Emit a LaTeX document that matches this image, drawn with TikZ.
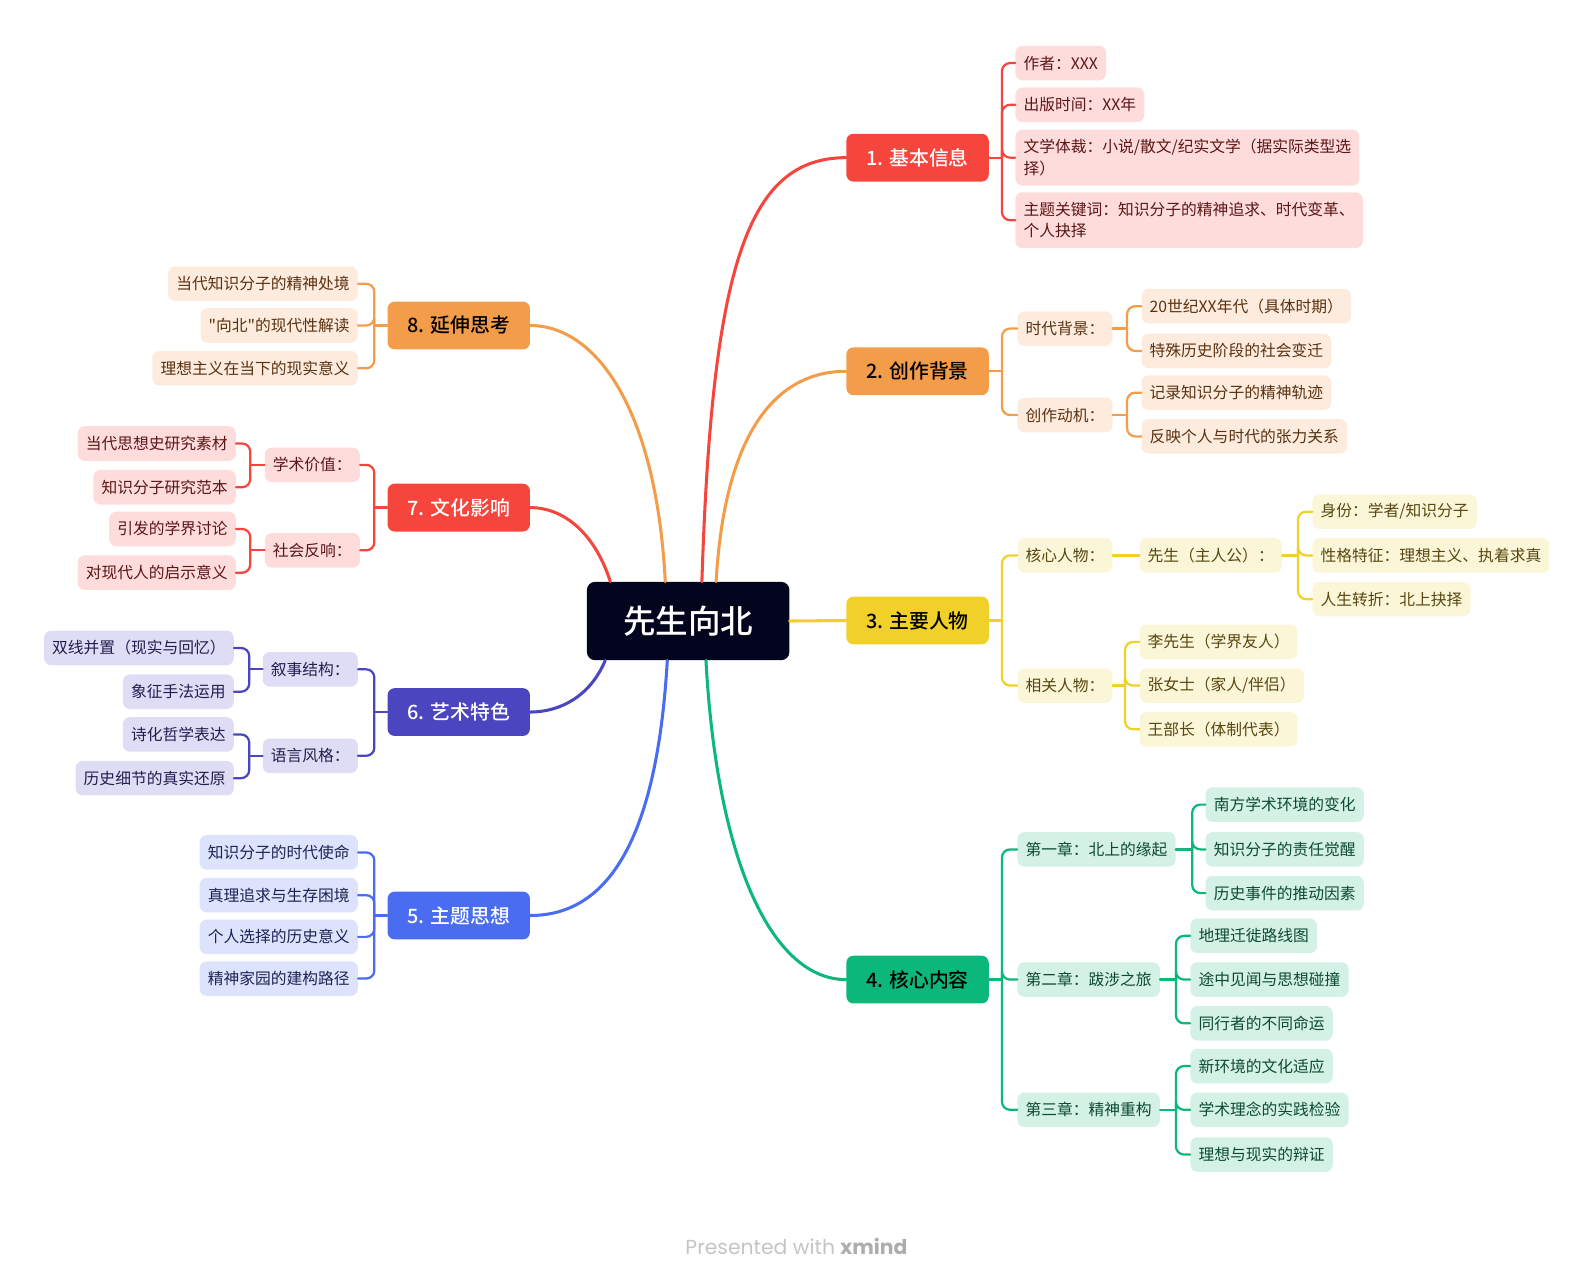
\documentclass[tikz,border=0pt]{standalone}
\usepackage{fontspec}
\setmainfont{Noto Sans CJK SC}
\newfontfamily\medfont{Noto Sans CJK SC}[UprightFont={* Medium}]
\newfontfamily\qfont{Noto Sans CJK SC}[Ligatures=TeXOff]
\newfontfamily\popp{Poppins}
\definecolor{cRed}{HTML}{F5453D}
\definecolor{cRedL}{HTML}{FDDCDB}
\definecolor{cRedT}{HTML}{5C1616}
\definecolor{cOr}{HTML}{F39C4A}
\definecolor{cOrL}{HTML}{FDEBDD}
\definecolor{cOrT}{HTML}{5A3212}
\definecolor{cYe}{HTML}{F1D029}
\definecolor{cYeL}{HTML}{FCF6D9}
\definecolor{cYeT}{HTML}{574710}
\definecolor{cGr}{HTML}{0CB77A}
\definecolor{cGrL}{HTML}{D3F1E4}
\definecolor{cGrT}{HTML}{0D4A34}
\definecolor{cBl}{HTML}{4A6CF0}
\definecolor{cBlL}{HTML}{DDE3FC}
\definecolor{cBlT}{HTML}{1B2452}
\definecolor{cIn}{HTML}{4B46BF}
\definecolor{cInL}{HTML}{DFDDF5}
\definecolor{cInT}{HTML}{221E4F}
\definecolor{cCtr}{HTML}{03051F}
\definecolor{cFoot}{HTML}{C4C4C4}
\definecolor{cFootB}{HTML}{ADADAD}
\tikzset{
  mainbox/.style={rounded corners=7, minimum width=140, minimum height=47, inner sep=0,
    font=\medfont\fontsize{19.5}{22}\selectfont},
  subbox/.style={rounded corners=7, minimum height=34, inner xsep=8, inner ysep=0,
    font=\fontsize{15.5}{21}\selectfont},
  twobox/.style={subbox, minimum height=55, align=left},
  redsub/.style={subbox, fill=cRedL, text=cRedT},
  orsub/.style={subbox, fill=cOrL, text=cOrT},
  yesub/.style={subbox, fill=cYeL, text=cYeT},
  grsub/.style={subbox, fill=cGrL, text=cGrT},
  blsub/.style={subbox, fill=cBlL, text=cBlT},
  insub/.style={subbox, fill=cInL, text=cInT},
  trunk/.style={line width=3, line cap=round},
  twig/.style={line width=2.2, rounded corners=8, line cap=round},
}
\begin{document}
\begin{tikzpicture}[x=1pt, y=-1pt]
\useasboundingbox (0,0) rectangle (1568,1257.3);

% central
\node[fill=cCtr, text=white, rounded corners=8, minimum width=199, minimum height=77,
  font=\medfont\fontsize{32}{36}\selectfont] (ctr) at (676.5,610.5) {先生向北};

% main nodes
\node[mainbox, fill=cRed, text=white] (n1) at (902,155) {1. 基本信息};
\node[mainbox, fill=cOr, text=black] (n2) at (902,365) {2. 创作背景};
\node[mainbox, fill=cYe, text=black] (n3) at (902,610) {3. 主要人物};
\node[mainbox, fill=cGr, text=black] (n4) at (902,963) {4. 核心内容};
\node[mainbox, fill=cBl, text=white] (n5) at (451,900) {5. 主题思想};
\node[mainbox, fill=cIn, text=white] (n6) at (451,700) {6. 艺术特色};
\node[mainbox, fill=cRed, text=white] (n7) at (451,499) {7. 文化影响};
\node[mainbox, fill=cOr, text=black] (n8) at (451,320) {8. 延伸思考};

% trunks
\draw[trunk, cRed] ([xshift=13.5]ctr.north) .. controls (700,260) and (735,155) .. (n1.west);
\draw[trunk, cOr] ([xshift=27.5]ctr.north) .. controls (712,430) and (760,365) .. (n2.west);
\draw[trunk, cYe] (ctr.east) -- (n3.west);
\draw[trunk, cGr] ([xshift=17.5]ctr.south) .. controls (705,850) and (760,963) .. (n4.west);
\draw[trunk, cBl] ([xshift=-20.5]ctr.south) .. controls (645,840) and (590,900) .. (n5.east);
\draw[trunk, cIn] ([xshift=-81.5]ctr.south) .. controls (580,685) and (550,700) .. (n6.east);
\draw[trunk, cRed] ([xshift=-76.5]ctr.north) .. controls (585,525) and (555,499) .. (n7.east);
\draw[trunk, cOr] ([xshift=-22.5]ctr.north) .. controls (645,400) and (585,320) .. (n8.east);

% ---------- branch 1
\node[redsub, anchor=west] (n1a) at (998,62) {作者：XXX};
\node[redsub, anchor=west] (n1b) at (998,103) {出版时间：XX年};
\node[twobox, fill=cRedL, text=cRedT, anchor=west] (n1c) at (998,155) {文学体裁：小说/散文/纪实文学（据实际类型选\\择）};
\node[twobox, fill=cRedL, text=cRedT, anchor=west] (n1d) at (998,216.5) {主题关键词：知识分子的精神追求、时代变革、\\个人抉择};
\coordinate (s1) at (985,155);
\draw[twig, cRed] (n1.east) -- (s1);
\foreach \c in {n1a,n1b,n1c,n1d} \draw[twig, cRed] (s1) |- (\c.west);

% ---------- branch 2
\node[orsub, anchor=west] (n2a) at (1000,323) {时代背景：};
\node[orsub, anchor=west] (n2b) at (1000,408) {创作动机：};
\coordinate (s2) at (985,365);
\draw[twig, cOr] (n2.east) -- (s2);
\foreach \c in {n2a,n2b} \draw[twig, cOr] (s2) |- (\c.west);
\node[orsub, anchor=west] (n2a1) at (1122,301) {20世纪XX年代（具体时期）};
\node[orsub, anchor=west] (n2a2) at (1122,345) {特殊历史阶段的社会变迁};
\coordinate (s2a) at (1108,323);
\draw[twig, cOr] (n2a.east) -- (s2a);
\foreach \c in {n2a1,n2a2} \draw[twig, cOr] (s2a) |- (\c.west);
\node[orsub, anchor=west] (n2b1) at (1122,386) {记录知识分子的精神轨迹};
\node[orsub, anchor=west] (n2b2) at (1122,429) {反映个人与时代的张力关系};
\coordinate (s2b) at (1108,408);
\draw[twig, cOr] (n2b.east) -- (s2b);
\foreach \c in {n2b1,n2b2} \draw[twig, cOr] (s2b) |- (\c.west);

% ---------- branch 3
\node[yesub, anchor=west] (n3a) at (1000,546) {核心人物：};
\node[yesub, anchor=west] (n3b) at (1000,674) {相关人物：};
\coordinate (s3) at (985,610);
\draw[twig, cYe] (n3.east) -- (s3);
\foreach \c in {n3a,n3b} \draw[twig, cYe] (s3) |- (\c.west);
\node[yesub, anchor=west] (n3a1) at (1120,546) {先生（主人公）：};
\draw[twig, cYe] (n3a.east) -- (n3a1.west);
\node[yesub, anchor=west] (n3x1) at (1290,503) {身份：学者/知识分子};
\node[yesub, anchor=west] (n3x2) at (1290,546) {性格特征：理想主义、执着求真};
\node[yesub, anchor=west] (n3x3) at (1290,589) {人生转折：北上抉择};
\coordinate (s3a) at (1276,546);
\draw[twig, cYe] (n3a1.east) -- (s3a);
\foreach \c in {n3x1,n3x2,n3x3} \draw[twig, cYe] (s3a) |- (\c.west);
\node[yesub, anchor=west] (n3b1) at (1120,631) {李先生（学界友人）};
\node[yesub, anchor=west] (n3b2) at (1120,674) {张女士（家人/伴侣）};
\node[yesub, anchor=west] (n3b3) at (1120,717) {王部长（体制代表）};
\coordinate (s3b) at (1106,674);
\draw[twig, cYe] (n3b.east) -- (s3b);
\foreach \c in {n3b1,n3b2,n3b3} \draw[twig, cYe] (s3b) |- (\c.west);

% ---------- branch 4
\node[grsub, anchor=west] (n4a) at (1000,835) {第一章：北上的缘起};
\node[grsub, anchor=west] (n4b) at (1000,963) {第二章：跋涉之旅};
\node[grsub, anchor=west] (n4c) at (1000,1091) {第三章：精神重构};
\coordinate (s4) at (985,963);
\draw[twig, cGr] (n4.east) -- (s4);
\foreach \c in {n4a,n4b,n4c} \draw[twig, cGr] (s4) |- (\c.west);
\node[grsub, anchor=west] (n4a1) at (1185,791) {南方学术环境的变化};
\node[grsub, anchor=west] (n4a2) at (1185,835) {知识分子的责任觉醒};
\node[grsub, anchor=west] (n4a3) at (1185,878) {历史事件的推动因素};
\coordinate (s4a) at (1172,835);
\draw[twig, cGr] (n4a.east) -- (s4a);
\foreach \c in {n4a1,n4a2,n4a3} \draw[twig, cGr] (s4a) |- (\c.west);
\node[grsub, anchor=west] (n4b1) at (1170,920) {地理迁徙路线图};
\node[grsub, anchor=west] (n4b2) at (1170,963) {途中见闻与思想碰撞};
\node[grsub, anchor=west] (n4b3) at (1170,1006) {同行者的不同命运};
\coordinate (s4b) at (1156,963);
\draw[twig, cGr] (n4b.east) -- (s4b);
\foreach \c in {n4b1,n4b2,n4b3} \draw[twig, cGr] (s4b) |- (\c.west);
\node[grsub, anchor=west] (n4c1) at (1170,1048) {新环境的文化适应};
\node[grsub, anchor=west] (n4c2) at (1170,1091) {学术理念的实践检验};
\node[grsub, anchor=west] (n4c3) at (1170,1135) {理想与现实的辩证};
\coordinate (s4c) at (1156,1091);
\draw[twig, cGr] (n4c.east) -- (s4c);
\foreach \c in {n4c1,n4c2,n4c3} \draw[twig, cGr] (s4c) |- (\c.west);

% ---------- branch 5
\node[blsub, anchor=east] (n5a) at (352,838) {知识分子的时代使命};
\node[blsub, anchor=east] (n5b) at (352,880) {真理追求与生存困境};
\node[blsub, anchor=east] (n5c) at (352,921) {个人选择的历史意义};
\node[blsub, anchor=east] (n5d) at (352,962) {精神家园的建构路径};
\coordinate (s5) at (368,900);
\draw[twig, cBl] (n5.west) -- (s5);
\foreach \c in {n5a,n5b,n5c,n5d} \draw[twig, cBl] (s5) |- (\c.east);

% ---------- branch 6
\node[insub, anchor=east] (n6a) at (352,658) {叙事结构：};
\node[insub, anchor=east] (n6b) at (352,743) {语言风格：};
\coordinate (s6) at (368,700);
\draw[twig, cIn] (n6.west) -- (s6);
\foreach \c in {n6a,n6b} \draw[twig, cIn] (s6) |- (\c.east);
\node[insub, anchor=east] (n6a1) at (230,637) {双线并置（现实与回忆）};
\node[insub, anchor=east] (n6a2) at (230,680) {象征手法运用};
\coordinate (s6a) at (245,658);
\draw[twig, cIn] (n6a.west) -- (s6a);
\foreach \c in {n6a1,n6a2} \draw[twig, cIn] (s6a) |- (\c.east);
\node[insub, anchor=east] (n6b1) at (230,722) {诗化哲学表达};
\node[insub, anchor=east] (n6b2) at (230,765) {历史细节的真实还原};
\coordinate (s6b) at (245,743);
\draw[twig, cIn] (n6b.west) -- (s6b);
\foreach \c in {n6b1,n6b2} \draw[twig, cIn] (s6b) |- (\c.east);

% ---------- branch 7
\node[redsub, anchor=east] (n7a) at (354,457) {学术价值：};
\node[redsub, anchor=east] (n7b) at (354,541) {社会反响：};
\coordinate (s7) at (368,499);
\draw[twig, cRed] (n7.west) -- (s7);
\foreach \c in {n7a,n7b} \draw[twig, cRed] (s7) |- (\c.east);
\node[redsub, anchor=east] (n7a1) at (232,436) {当代思想史研究素材};
\node[redsub, anchor=east] (n7a2) at (232,479) {知识分子研究范本};
\coordinate (s7a) at (246,457);
\draw[twig, cRed] (n7a.west) -- (s7a);
\foreach \c in {n7a1,n7a2} \draw[twig, cRed] (s7a) |- (\c.east);
\node[redsub, anchor=east] (n7b1) at (232,520) {引发的学界讨论};
\node[redsub, anchor=east] (n7b2) at (232,563) {对现代人的启示意义};
\coordinate (s7b) at (246,541);
\draw[twig, cRed] (n7b.west) -- (s7b);
\foreach \c in {n7b1,n7b2} \draw[twig, cRed] (s7b) |- (\c.east);

% ---------- branch 8
\node[orsub, anchor=east] (n8a) at (352,279) {当代知识分子的精神处境};
\node[orsub, anchor=east] (n8b) at (352,320) {{\qfont"}向北{\qfont"}的现代性解读};
\node[orsub, anchor=east] (n8c) at (352,362) {理想主义在当下的现实意义};
\coordinate (s8) at (368,320);
\draw[twig, cOr] (n8.west) -- (s8);
\foreach \c in {n8a,n8b,n8c} \draw[twig, cOr] (s8) |- (\c.east);

% footer
\node[font=\popp\fontsize{20}{24}\selectfont, text=cFoot] (foot) at (783,1225)
  {Presented with \textcolor{cFootB}{\bfseries xmind}};
\end{tikzpicture}
\end{document}
